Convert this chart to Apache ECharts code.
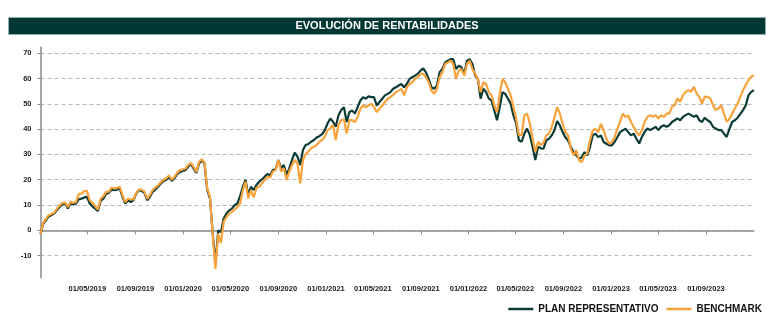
<!DOCTYPE html>
<html>
<head>
<meta charset="utf-8">
<script src="https://cdn.jsdelivr.net/npm/echarts@6/dist/echarts.min.js"></script>
<style>
html,body{margin:0;padding:0;background:#fff;}
#c{width:771px;height:325px;}
</style>
</head>
<body>
<div id="c"></div>
<script>
// Weekly observations starting 01/01/2019
const startDate = '2019-01-01';
const stepDays = 7;

const planRepresentativo = [
-1.5, 2.6, 4, 5.5, 6, 6.6, 8, 9.2, 10.3, 10.6, 8.6, 10.8, 10.2, 10.6, 12.3, 12.5, 13, 13.2, 10.6, 9.5, 8.6, 7.7, 11.6, 12.5, 14.5, 14.8, 16.1, 15.9, 16.1, 16.5, 13.2, 10.6, 11.9, 11.2, 11.9, 14.5, 15.9, 15.6,
14.8,
11.9, 13.2, 15.2, 16.1, 17.2, 18.5, 19.5, 20, 21.1, 19.5, 20.6, 22.2, 23.1, 23.5, 23.8, 25.1, 26.4, 24.4, 22.7, 26.4, 27.7, 26.4, 15.9, 12.5, -1.3, -13.2, 0, -0.7, 4.6, 6.6, 7.9, 8.6, 9.9, 10.6,
13.5, 17.2, 19.9, 14, 17.2, 15.9, 17.9, 19.2, 20.1, 21.2, 22.2, 21.8, 23.8, 24.1, 27.8, 24.5, 25.8, 21.8, 24.5, 27.8, 30.7, 29.1, 25.8, 31.7, 33.7, 34.1, 35, 35.7, 36.7, 37.2, 38, 39.6, 42.2, 44.2, 42.9, 40.9, 45.5, 47.5, 48.6,
42.8, 46.7, 47.4, 46.1, 48.7, 51.3, 52.6, 52, 52.9, 52.6, 52.6, 49.3, 50.7, 52, 53.3, 53.9, 54.6, 55.9, 56.5, 57.2, 57.8, 56.5, 57.8, 59.8, 60.5, 61.1, 61.8, 63.1, 64, 62.4, 59.8, 56.5, 55.9, 57.2,
62.5, 63.7, 66.3, 67, 67.6, 67.6, 63.7, 65, 64.4, 61.8, 67, 67.6, 65.7, 61.1, 59.8, 52, 55.9, 54.6, 52, 51.3, 47.4, 43.5, 48.7, 54.6, 53.9, 52, 50, 45.4, 42.2, 35.6, 35, 38.2, 40.2, 37.6, 33, 27.8, 33, 32.4,
32.3, 35.5, 36.2, 37.5, 39.5, 43.2, 41.4, 38.8, 36.8, 35.5, 32.9, 30.9, 29.6, 28.3, 28.9, 30.9, 29.6, 32.9, 37.5, 38.2, 36.8, 37.5, 34.9, 34.2, 33.6, 33.6, 34.9, 36.8, 38.8, 39.5, 40.1, 38.8, 37.5, 38.2, 36.2, 34.3,
36.9, 38.9, 40.2, 39.6, 40.2, 40.9, 39.6, 40.9, 41.5, 40.9, 41.5, 42.8, 43.5, 44.2, 43.5, 44.8, 45.5, 46.1, 45.5, 44.8, 45.5, 43.5, 42.8, 44.5, 43.5, 42.8, 40.9, 40.2, 39.6, 39.6, 38.2, 36.9, 40, 42.8, 43.5, 44.5, 46, 47.5, 49.4, 53.4, 54.7, 55.4
];

const benchmark = [
-1.5, 3, 4.5, 6, 6.5, 7, 8.5, 9.8, 10.8, 11, 9.2, 11.3, 10.8, 11.2, 14.3, 14.5, 15.5, 15.6, 11.9, 10.8, 9.5, 8.2, 12.5, 13.5, 15.2, 15.3, 16.9, 16.5, 16.8, 17.2, 13.9, 11.2, 12.5, 12.2, 12.2, 14.8, 16.1, 16.1,
15.3,
12.5, 13.9, 15.9, 16.9, 17.8, 19, 20, 20.6, 21.7, 20, 21.2, 22.7, 23.8, 24, 24.4, 25.8, 26.7, 25.1, 23.1, 27.1, 28.1, 26.7, 16.5, 13.2, -2, -15.2, -1.3, -5, 3.3, 5.3, 6.6, 7.3, 8.2, 9.2,
10.5, 15.9, 19.2, 12.6, 15.9, 13, 16.8, 17.2, 18.6, 19.9, 21.2, 20.9, 23.2, 23.8, 27.8, 23.2, 24.5, 19.9, 23.2, 25.8, 27.8, 26.4, 18.6, 27.8, 30.1, 31.1, 32.4, 33, 33.7, 35, 35.7, 37, 39.6, 40.3, 41.6, 35.7, 41.6, 43.6, 43.8,
38.2, 43.5, 43.5, 42.8, 44.8, 48, 49.3, 48.7, 49.3, 50, 48.7, 46.7, 48, 49.3, 50.7, 52, 52.6, 53.5, 54.6, 55.2, 55.9, 53.3, 56.5, 57.8, 58.5, 59.8, 60.5, 61.8, 61.8, 60.5, 58.5, 55.2, 53.9, 55.9,
60.5, 62.4, 65.7, 66.3, 67, 65.7, 59.8, 63.1, 63.7, 61.1, 65.7, 67, 63.7, 61.8, 59.8, 54.6, 58.5, 57.8, 54.6, 53.3, 49.3, 46.7, 53.9, 59.8, 58.5, 55.9, 53.3, 48.7, 44.1, 37.6, 37.6, 45.4, 46.1, 42.2, 36.3, 31, 35, 33.7,
34.6, 37.5, 38.2, 40.8, 44.7, 48.7, 46.1, 42.1, 38.8, 37.5, 32.2, 29.6, 31.6, 27.6, 27, 29.6, 30.3, 35.5, 39.5, 40.1, 38.8, 42.1, 39.5, 36.2, 34.2, 34.9, 36.8, 40.1, 42.8, 46.1, 44.7, 45.4, 42.8, 40.8, 38.8, 37.5,
39.6, 42.9, 44.8, 45.5, 44.8, 45.5, 44.2, 45.5, 44.8, 46.1, 46.1, 48.8, 49.4, 52.1, 50.8, 53.4, 54.7, 55.4, 54.7, 56.7, 54.1, 52.7, 50.1, 52.8, 52.7, 52.1, 49.4, 47.5, 48.1, 49.4, 46.1, 42.9, 44, 46.1, 48.1, 50.1, 52.7, 55.4, 57.4, 59.4, 60.7, 61.3
];

const xTickLabels = ['01/05/2019','01/09/2019','01/01/2020','01/05/2020','01/09/2020','01/01/2021','01/05/2021','01/09/2021','01/01/2022','01/05/2022','01/09/2022','01/01/2023','01/05/2023','01/09/2023'];
const yTickValues = [-10, 0, 10, 20, 30, 40, 50, 60, 70];

const seriesNames = ['PLAN REPRESENTATIVO', 'BENCHMARK'];
const chartTitle = 'EVOLUCIÓN DE RENTABILIDADES';

function parseDMY(s){ const p = s.split('/'); return new Date(+p[2], +p[1]-1, +p[0]).getTime(); }
function parseISO(s){ const p = s.split('-'); return new Date(+p[0], +p[1]-1, +p[2]).getTime(); }
function fmt(t){ const d = new Date(t); const pad = n => (n<10?'0':'')+n; return pad(d.getDate())+'/'+pad(d.getMonth()+1)+'/'+d.getFullYear(); }

const t0 = parseISO(startDate);
const dates = planRepresentativo.map((_, i) => { const d = new Date(t0); d.setDate(d.getDate() + i*stepDays); return d.getTime(); });
const xTicks = xTickLabels.map(parseDMY);

const FONT = "'Liberation Sans', Arial, sans-serif";

const chart = echarts.init(document.getElementById('c'), null, {renderer:'canvas'});
chart.setOption({
  animation: false,
  backgroundColor: '#ffffff',
  graphic: [
    { type:'rect', left: 8, top: 17, shape:{width: 757, height: 17}, style:{fill:'#023833', stroke:'#8fb0ab', lineWidth:1}, z: 10 },
    { type:'text', x: 387, y: 26, style:{text: chartTitle, fill:'#ffffff', font: "bold 11px " + FONT, align:'center', verticalAlign:'middle'}, z: 11 }
  ],
  grid: { left: 40.5, right: 17, top: 47.3, bottom: 47.3, containLabel: false },
  legend: {
    right: 9, top: 304, padding: 0,
    icon: 'rect', itemWidth: 25, itemHeight: 2.5, itemGap: 8,
    textStyle: { fontFamily: FONT, fontWeight: 'bold', fontSize: 10, color: '#111' },
    data: seriesNames
  },
  xAxis: {
    type: 'value',
    min: dates[0], max: dates[dates.length-1],
    axisLine: { lineStyle: { color: '#8a8a8a', width: 1.5 } },
    axisTick: { show: true, length: 4, customValues: xTicks, lineStyle: { color: '#8a8a8a' } },
    axisLabel: { customValues: xTicks, formatter: v => fmt(v), fontFamily: FONT, fontWeight: 'bold', fontSize: 7.5, color: '#1a1a1a', margin: 7 },
    splitLine: { show: false }
  },
  yAxis: {
    type: 'value',
    min: -18.7, max: 72.3,
    axisLine: { show: true, lineStyle: { color: '#8a8a8a', width: 1.5 } },
    axisTick: { show: true, length: 3, customValues: yTickValues, lineStyle: { color: '#8a8a8a' } },
    axisLabel: { customValues: yTickValues, fontFamily: FONT, fontWeight: 'bold', fontSize: 7.5, color: '#1a1a1a', margin: 9 },
    splitLine: { show: true, lineStyle: { color: '#b8b8b8', type: [4, 3], width: 1 } }
  },
  series: [
    { name: seriesNames[0], type: 'line', data: dates.map((d,i)=>[d, planRepresentativo[i]]), showSymbol:false, symbol:'none', lineStyle:{ color:'#0b3b36', width:2.2 }, itemStyle:{color:'#0b3b36'}, z: 2 },
    { name: seriesNames[1], type: 'line', data: dates.map((d,i)=>[d, benchmark[i]]), showSymbol:false, symbol:'none', lineStyle:{ color:'#f7a23b', width:2.2 }, itemStyle:{color:'#f7a23b'}, z: 3 }
  ]
});
</script>
</body>
</html>
